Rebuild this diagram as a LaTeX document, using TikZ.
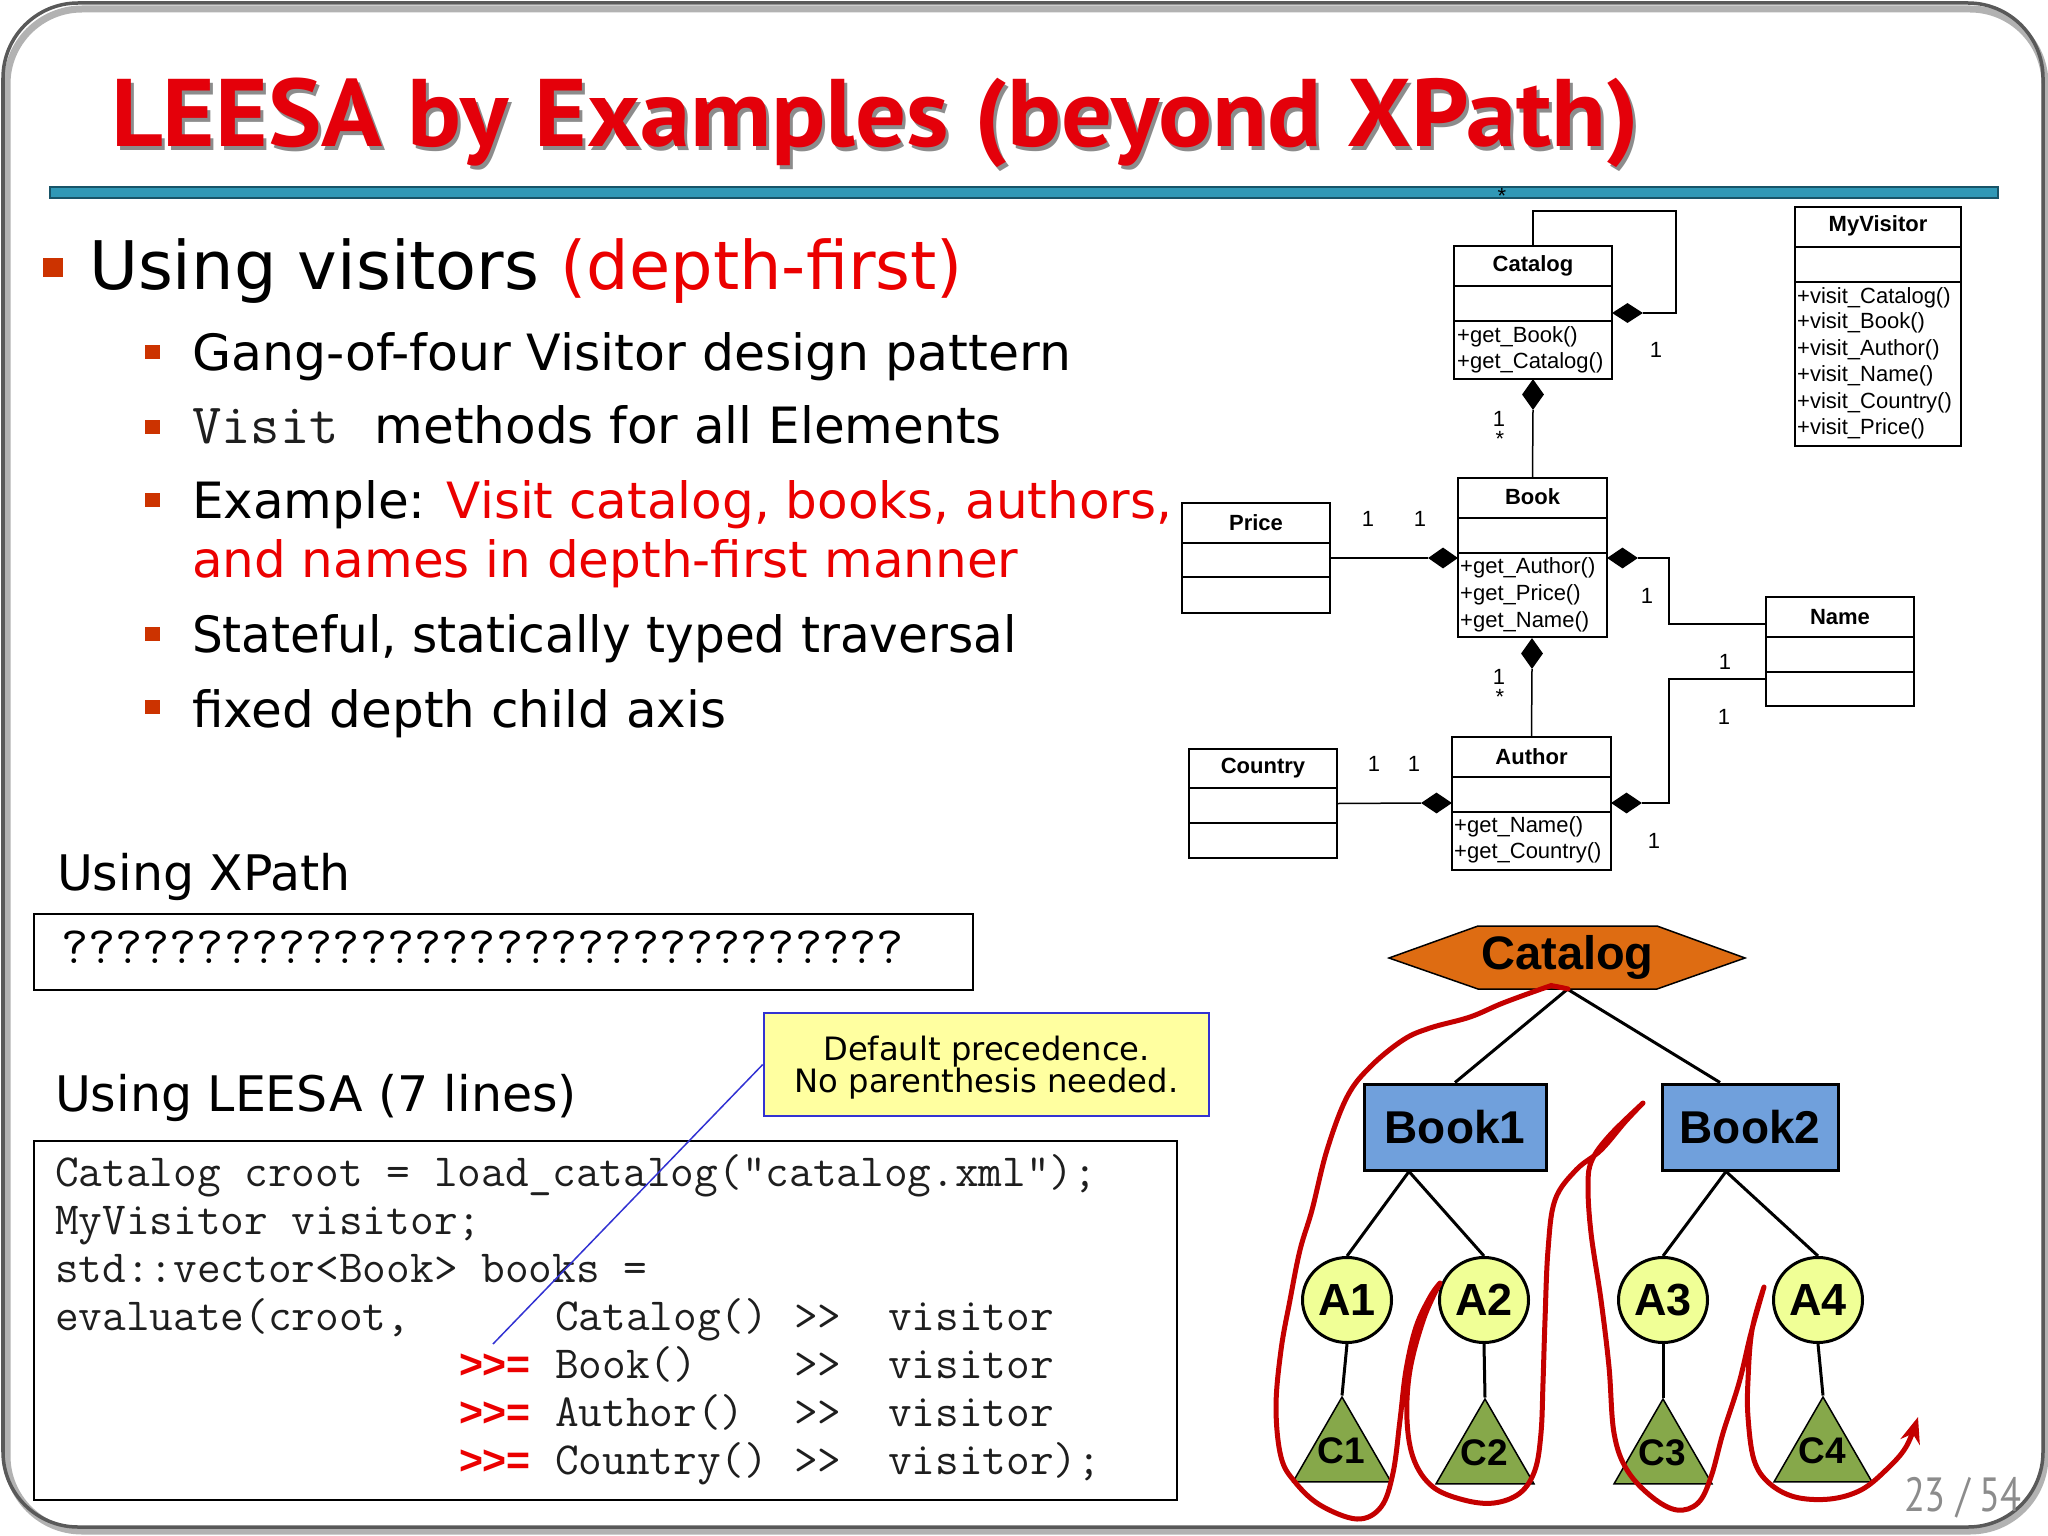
\documentclass[tikz,border=0pt]{standalone}
\usepackage{fontspec}
\setmainfont{DejaVu Sans}
\newfontfamily\titlefont{PT Sans}
\newfontfamily\umlfont{Liberation Sans}
\newfontfamily\callfont{DejaVu Sans}
\usepackage{graphicx}
\usetikzlibrary{shapes.geometric,arrows.meta,calc}
\definecolor{titlered}{RGB}{228,0,10}
\definecolor{tred}{RGB}{235,0,0}
\definecolor{bulletc}{RGB}{204,51,0}
\definecolor{barblue}{RGB}{48,152,182}
\definecolor{bardark}{RGB}{24,84,104}
\definecolor{callfill}{RGB}{255,255,160}
\definecolor{callblue}{RGB}{50,50,210}
\definecolor{catorange}{RGB}{222,108,18}
\definecolor{bookblue}{RGB}{112,160,220}
\definecolor{afill}{RGB}{240,255,150}
\definecolor{cgreen}{RGB}{134,168,74}
\definecolor{travred}{RGB}{196,0,0}
\definecolor{codegray}{RGB}{30,30,30}
\definecolor{pagegray}{RGB}{140,140,140}
\newcommand\fsz[1]{\fontsize{#1bp}{#1bp}\selectfont}
\newcommand\gtgt{\mbox{>}\mbox{>}}
\begin{document}
\begin{tikzpicture}[x=1bp,y=-1bp,
  txt/.style={inner sep=0,outer sep=0,anchor=base west},
  lone/.style={txt,font=\fsz{67}},
  ltwo/.style={txt,font=\fsz{50}},
  head/.style={txt,font=\fsz{49}},
  code/.style={txt,font=\fsz{46}\ttfamily,text=codegray},
  redop/.style={txt,font=\fsz{41}\umlfont\bfseries,text=tred},
  bulA/.style={fill=bulletc,minimum width=20bp,minimum height=19bp,inner sep=0},
  bulB/.style={fill=bulletc,minimum width=15bp,minimum height=14bp,inner sep=0},
  umlbox/.style={draw,line width=2bp,inner sep=0},
  umlline/.style={line width=1.5bp},
  umltitle/.style={inner sep=0,font=\fsz{22}\umlfont\bfseries},
  umlm/.style={inner sep=0,anchor=west,font=\fsz{22}\umlfont},
  mult/.style={inner sep=0,font=\fsz{22}\umlfont},
  dia/.style={diamond,fill=black,inner sep=0},
  tline/.style={line width=3bp},
  bookbox/.style={draw,line width=3bp,fill=bookblue,minimum width=182bp,minimum height=86bp,inner sep=0,font=\fsz{46}\umlfont\bfseries},
  anode/.style={ellipse,draw,line width=3bp,fill=afill,minimum width=89bp,minimum height=85bp,inner sep=0,font=\fsz{45}\umlfont\bfseries},
  cnode/.style={regular polygon,regular polygon sides=3,draw,line width=1.5bp,fill=cgreen,minimum size=113bp,inner sep=0},
  ctext/.style={inner sep=0,font=\fsz{37}\umlfont\bfseries},
  trav/.style={line width=5bp,draw=travred,line cap=round,line join=round}
]
\useasboundingbox (0,0) rectangle (2048,1536);
% frame
\draw[line width=7bp,black!30,rounded corners=75bp] (7,9) rectangle (2045,1531);
\draw[line width=3.5bp,black!65,rounded corners=75bp] (3,3) rectangle (2043,1527);
% title
\node[txt,font=\fsz{96}\titlefont\bfseries,text=black!45] (titlesh) at (114,151) {\scalebox{1.05}[1]{LEESA by Examples (beyond XPath)}};
\node[txt,font=\fsz{96}\titlefont\bfseries,text=titlered] (title) at (111,147) {\scalebox{1.05}[1]{LEESA by Examples (beyond XPath)}};
\node[fill=barblue,draw=bardark,line width=1.5bp,minimum width=1948bp,minimum height=11bp,inner sep=0] (bar) at (1024,192.5) {};
% bullets
\node[bulA] (b0) at (53,267) {};
\node[lone] (t0) at (89,289) {Using visitors \textcolor{tred}{(depth-first)}};
\node[bulB] (b1) at (152,352) {};
\node[ltwo] (t1) at (192,370) {\scalebox{1.01}[1]{Gang-of-four Visitor design pattern}};
\node[bulB] (b2) at (152,427) {};
\node[ltwo] (t2) at (192,443) {{\fsz{57}\ttfamily\color{codegray}Visit}\hspace{20bp} methods for all Elements};
\node[bulB] (b3) at (152,500) {};
\node[ltwo] (t3) at (192,518) {Example: \textcolor{tred}{Visit catalog, books, authors,}};
\node[ltwo,text=tred] (t3b) at (192,577) {and names in depth-first manner};
\node[bulB] (b4) at (152,634) {};
\node[ltwo] (t4) at (192,652) {\scalebox{0.97}[1]{Stateful, statically typed traversal}};
\node[bulB] (b5) at (152,707) {};
\node[ltwo] (t5) at (192,727) {fixed depth child axis};
% XPath
\node[head] (hx) at (57,890) {Using XPath};
\node[draw,line width=2.5bp,minimum width=939bp,minimum height=76bp,inner sep=0] (xbox) at (503.5,952) {};
\node[txt,font=\fsz{52.8}\ttfamily] (xq) at (61,963) {???????????????????????????????};
% LEESA
\node[head] (hl) at (55,1111) {Using LEESA (7 lines)};
\node[draw,line width=2.5bp,minimum width=1143bp,minimum height=359bp,inner sep=0] (cbox) at (605.5,1320.5) {};
\node[code] (c1) at (55,1186) {Catalog croot = load\_catalog(“catalog.xml”);};
\node[code] (c2) at (55,1234) {MyVisitor visitor;};
\node[code] (c3) at (55,1282) {std::vector<Book> books =};
\node[code] (c4a) at (55,1330) {evaluate(croot,};
\node[code] (c4b) at (555,1330) {Catalog()};
\node[code] (c4c) at (794,1330) {\gtgt};
\node[code] (c4d) at (888,1330) {visitor};
\node[redop] (c5o) at (459,1378) {\gtgt=};
\node[code] (c5b) at (555,1378) {Book()};
\node[code] (c5c) at (794,1378) {\gtgt};
\node[code] (c5d) at (888,1378) {visitor};
\node[redop] (c6o) at (459,1426) {\gtgt=};
\node[code] (c6b) at (555,1426) {Author()};
\node[code] (c6c) at (794,1426) {\gtgt};
\node[code] (c6d) at (888,1426) {visitor};
\node[redop] (c7o) at (459,1474) {\gtgt=};
\node[code] (c7b) at (555,1474) {Country()};
\node[code] (c7c) at (794,1474) {\gtgt};
\node[code] (c7d) at (888,1474) {visitor);};
% callout
\node[draw=callblue,fill=callfill,line width=2.5bp,minimum width=445bp,minimum height=103bp,inner sep=0,align=center,font=\fsz{32.2}\callfont,text depth=0] (call) at (986.5,1064.5) {\fontsize{32.2bp}{40bp}\selectfont Default precedence.\\No parenthesis needed.};
\coordinate (ptr) at (493,1344);
\draw[line width=1.5bp,color=callblue] (call.west) -- (ptr);
% UML boxes
\node[umlbox,minimum width=158bp,minimum height=133bp] (ucat) at (1533,312.5) {};
\draw[umlbox] (ucat.west |- 0,286) -- (ucat.east |- 0,286);
\draw[umlbox] (ucat.west |- 0,321) -- (ucat.east |- 0,321);
\node[umltitle] (ucatt) at (1533,266) {Catalog};
\node[umlm] (ucatm1) at (1457,337) {+get\_Book()};
\node[umlm] (ucatm2) at (1457,363) {+get\_Catalog()};
\node[umlbox,minimum width=166bp,minimum height=239bp] (uvis) at (1878,326.5) {};
\draw[umlbox] (uvis.west |- 0,247) -- (uvis.east |- 0,247);
\draw[umlbox] (uvis.west |- 0,282) -- (uvis.east |- 0,282);
\node[umltitle] (uvist) at (1878,226) {MyVisitor};
\node[umlm] (uvm1) at (1797,298) {+visit\_Catalog()};
\node[umlm] (uvm2) at (1797,323) {+visit\_Book()};
\node[umlm] (uvm3) at (1797,350) {+visit\_Author()};
\node[umlm] (uvm4) at (1797,376) {+visit\_Name()};
\node[umlm] (uvm5) at (1797,403) {+visit\_Country()};
\node[umlm] (uvm6) at (1797,429) {+visit\_Price()};
\node[umlbox,minimum width=149bp,minimum height=159bp] (ubook) at (1532.5,557.5) {};
\draw[umlbox] (ubook.west |- 0,518) -- (ubook.east |- 0,518);
\draw[umlbox] (ubook.west |- 0,553) -- (ubook.east |- 0,553);
\node[umltitle] (ubookt) at (1532.5,497) {Book};
\node[umlm] (ubm1) at (1460,568) {+get\_Author()};
\node[umlm] (ubm2) at (1460,595) {+get\_Price()};
\node[umlm] (ubm3) at (1460,622) {+get\_Name()};
\node[umlbox,minimum width=148bp,minimum height=110bp] (uprice) at (1256,558) {};
\draw[umlbox] (uprice.west |- 0,543) -- (uprice.east |- 0,543);
\draw[umlbox] (uprice.west |- 0,577) -- (uprice.east |- 0,577);
\node[umltitle] (upricet) at (1256,523) {Price};
\node[umlbox,minimum width=148bp,minimum height=109bp] (uname) at (1840,651.5) {};
\draw[umlbox] (uname.west |- 0,637) -- (uname.east |- 0,637);
\draw[umlbox] (uname.west |- 0,672) -- (uname.east |- 0,672);
\node[umltitle] (unamet) at (1840,617) {Name};
\node[umlbox,minimum width=159bp,minimum height=133bp] (uauth) at (1531.5,803.5) {};
\draw[umlbox] (uauth.west |- 0,777) -- (uauth.east |- 0,777);
\draw[umlbox] (uauth.west |- 0,812) -- (uauth.east |- 0,812);
\node[umltitle] (uautht) at (1531.5,757) {Author};
\node[umlm] (uam1) at (1454,827) {+get\_Name()};
\node[umlm] (uam2) at (1454,853) {+get\_Country()};
\node[umlbox,minimum width=148bp,minimum height=109bp] (ucoun) at (1263,803.5) {};
\draw[umlbox] (ucoun.west |- 0,788) -- (ucoun.east |- 0,788);
\draw[umlbox] (ucoun.west |- 0,823) -- (ucoun.east |- 0,823);
\node[umltitle] (ucount) at (1263,768) {Country};
% diamonds and connectors
\node[dia,minimum width=31bp,minimum height=20bp] (dself) at (1627.5,313) {};
\node[dia,minimum width=22bp,minimum height=31bp] (dcb) at (1533,394.5) {};
\node[dia,minimum width=30bp,minimum height=21bp] (dpb) at (1443,558) {};
\node[dia,minimum width=31bp,minimum height=21bp] (dbn) at (1622.5,558) {};
\node[dia,minimum width=22bp,minimum height=31bp] (dba) at (1532,653.5) {};
\node[dia,minimum width=31bp,minimum height=21bp] (dca) at (1436.5,803) {};
\node[dia,minimum width=31bp,minimum height=21bp] (dan) at (1626.5,803) {};
\coordinate (nin1) at (1766,624);
\coordinate (nin2) at (1766,679);
\draw[umlline] (ucat.north) -- (1533,211) -- (1676,211) -- (1676,313) -- (dself.east);
\draw[umlline] (dcb.south) -- (ubook.north);
\draw[umlline] (uprice.east) -- (dpb.west);
\draw[umlline] (dbn.east) -- (1669,558) -- (1669,624) -- (nin1);
\draw[umlline] (dba.south) -- (uauth.north);
\draw[umlline] (ucoun.east) -- (dca.west);
\draw[umlline] (dan.east) -- (1669,803) -- (1669,679) -- (nin2);
% multiplicities
\node[mult] (m1) at (1502,196) {*};
\node[mult] (m2) at (1656,350) {1};
\node[mult] (m3) at (1499,419) {1};
\node[mult] (m4) at (1500,439) {*};
\node[mult] (m5) at (1368,519) {1};
\node[mult] (m6) at (1420,519) {1};
\node[mult] (m7) at (1647,596) {1};
\node[mult] (m8) at (1499,677) {1};
\node[mult] (m9) at (1500,697) {*};
\node[mult] (m10) at (1374,764) {1};
\node[mult] (m11) at (1414,764) {1};
\node[mult] (m12) at (1725,662) {1};
\node[mult] (m13) at (1724,717) {1};
\node[mult] (m14) at (1654,841) {1};
% tree
\draw[fill=catorange,line width=1.5bp] (1389,958) -- (1478,926) -- (1657,926) -- (1745,958) -- (1657,989) -- (1478,989) -- cycle;
\node[inner sep=0,minimum width=179bp,minimum height=63bp,font=\fsz{47}\umlfont\bfseries] (tcat) at (1567.5,957.5) {Catalog};
\node[bookbox] (tb1) at (1455,1127) {Book1};
\node[bookbox,minimum width=176bp] (tb2) at (1750,1127) {Book2};
\node[anode] (a1) at (1347,1300) {A1};
\node[anode] (a2) at (1484,1300) {A2};
\node[anode] (a3) at (1663,1300) {A3};
\node[anode] (a4) at (1818,1300) {A4};
\node[cnode] (k1) at (1342,1453.5) {};
\node[cnode] (k2) at (1485,1455.5) {};
\node[cnode] (k3) at (1663,1455.5) {};
\node[cnode] (k4) at (1823,1453.5) {};
\node[ctext] (k1t) at (1341,1451) {C1};
\node[ctext] (k2t) at (1484,1453) {C2};
\node[ctext] (k3t) at (1662,1453) {C3};
\node[ctext] (k4t) at (1822,1451) {C4};
\draw[tline] (tcat.south) -- (tb1.north);
\draw[tline] (tcat.south) -- ($(tb2.north)+(-30,0)$);
\draw[tline] ($(tb1.south)+(-46,0)$) -- (a1.north);
\draw[tline] ($(tb1.south)+(-46,0)$) -- (a2.north);
\draw[tline] ($(tb2.south)+(-24,0)$) -- (a3.north);
\draw[tline] ($(tb2.south)+(-24,0)$) -- (a4.north);
\draw[tline] (a1.south) -- (k1.north);
\draw[tline] (a2.south) -- (k2.north);
\draw[tline] (a3.south) -- (k3.north);
\draw[tline] (a4.south) -- (k4.north);
% traversal
\draw[trav,-{Stealth[length=26bp,width=20bp]}]
  plot[smooth,tension=0.6] coordinates {(1568,989) (1553,986) (1547,987) (1503,1003) (1470,1017) (1430,1028) (1403,1040) (1370,1067) (1347,1097) (1327,1150) (1312,1210) (1300,1250) (1290,1300) (1281,1350) (1276,1407) (1281,1457) (1295,1482) (1320,1505) (1357,1519) (1381,1507) (1393,1473) (1400,1420) (1406,1370) (1416,1327) (1430,1297) (1440,1283)}
  -- plot[smooth,tension=0.6] coordinates {(1440,1283) (1424,1318) (1410,1370) (1407,1420) (1414,1460) (1433,1487) (1464,1500) (1494,1503) (1520,1493) (1535,1470) (1541,1433) (1543,1383) (1545,1320) (1548,1250) (1555,1200) (1576,1170) (1601,1150) (1625,1122) (1643,1103)}
  -- plot[smooth,tension=0.6] coordinates {(1643,1103) (1610,1135) (1592,1160) (1588,1185) (1591,1233) (1601,1300) (1609,1367) (1614,1433) (1627,1470) (1652,1497) (1677,1510) (1698,1503) (1711,1477) (1723,1433) (1739,1383) (1751,1333) (1764,1287)}
  -- plot[smooth,tension=0.6] coordinates {(1764,1287) (1752,1330) (1748,1380) (1748,1417) (1754,1460) (1769,1483) (1795,1497) (1830,1499) (1861,1490) (1886,1470) (1906,1447) (1918,1417)};
% page number
\node[inner sep=0,anchor=base east,font=\fsz{48}\titlefont,text=pagegray] (pg) at (2022,1511) {\scalebox{0.8}[1]{23 / 54}};
\end{tikzpicture}
\end{document}
